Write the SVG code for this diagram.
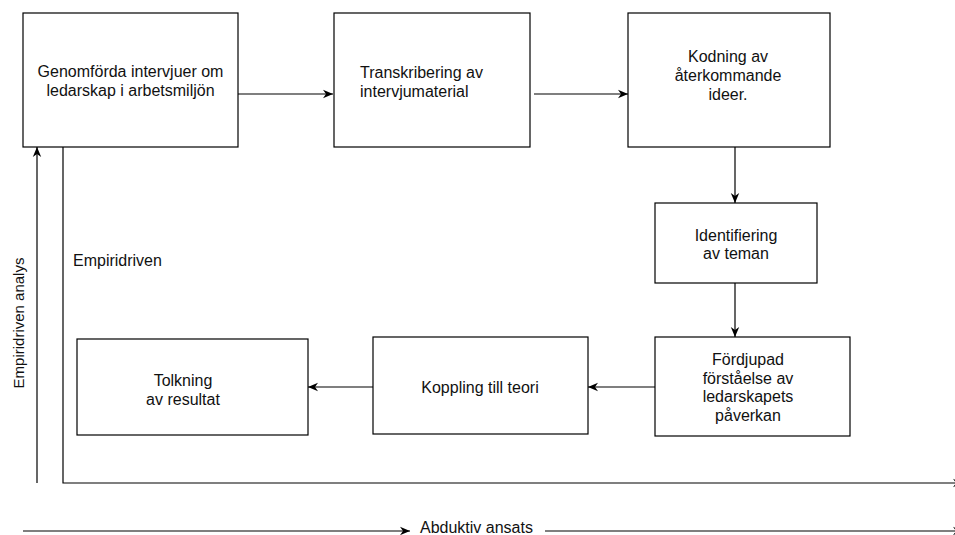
<svg xmlns="http://www.w3.org/2000/svg" width="955" height="535" viewBox="0 0 955 535">
<defs>
<style>
.box{fill:#fff;stroke:#000;stroke-width:1.2}
.t{font-family:"Liberation Sans",Arial,Helvetica,sans-serif;font-size:16px;fill:#111}
.c{text-anchor:middle}
.ln{fill:none;stroke:#000;stroke-width:1.2}
</style>
<marker id="arr" viewBox="0 0 10 10" refX="10" refY="5" markerWidth="10" markerHeight="10" markerUnits="userSpaceOnUse" orient="auto">
<path d="M0,0.8 L10,5 L0,9.2 L3,5 Z" fill="#000"/>
</marker>
</defs>
<rect width="955" height="535" fill="#fff"/>
<g id="connectors">
<line class="ln" x1="238" y1="94" x2="333" y2="94" marker-end="url(#arr)"/>
<line class="ln" x1="534" y1="94" x2="628" y2="94" marker-end="url(#arr)"/>
<line class="ln" x1="735" y1="147" x2="735" y2="203" marker-end="url(#arr)"/>
<line class="ln" x1="735" y1="283" x2="735" y2="337" marker-end="url(#arr)"/>
<line class="ln" x1="655" y1="387" x2="588" y2="387" marker-end="url(#arr)"/>
<line class="ln" x1="373" y1="387" x2="308" y2="387" marker-end="url(#arr)"/>
<line class="ln" x1="37" y1="483" x2="37" y2="147" marker-end="url(#arr)"/>
<polyline class="ln" points="63,147 63,483 963,483" marker-end="url(#arr)"/>
<line class="ln" x1="23" y1="531" x2="410" y2="531" marker-end="url(#arr)"/>
<line class="ln" x1="545" y1="531" x2="963" y2="531" marker-end="url(#arr)"/>
</g>
<g id="n1">
<rect class="box" x="23" y="13" width="215" height="134"/>
<text class="t c" x="130.5" y="77">Genomförda intervjuer om</text>
<text class="t c" x="130.5" y="96">ledarskap i arbetsmiljön</text>
</g>
<g id="n2">
<rect class="box" x="334" y="13" width="196" height="134"/>
<text class="t" x="360" y="77.5">Transkribering av</text>
<text class="t" x="360" y="96.5">intervjumaterial</text>
</g>
<g id="n3">
<rect class="box" x="628" y="13" width="202" height="134"/>
<text class="t c" x="728" y="62">Kodning av</text>
<text class="t c" x="728" y="81">återkommande</text>
<text class="t c" x="728" y="100">ideer.</text>
</g>
<g id="n4">
<rect class="box" x="655" y="203" width="162" height="80"/>
<text class="t c" x="736" y="240.5">Identifiering</text>
<text class="t c" x="736" y="259">av teman</text>
</g>
<g id="n5">
<rect class="box" x="655" y="337" width="195" height="99"/>
<text class="t c" x="748" y="365">Fördjupad</text>
<text class="t c" x="748" y="383.5">förståelse av</text>
<text class="t c" x="748" y="402">ledarskapets</text>
<text class="t c" x="748" y="420.5">påverkan</text>
</g>
<g id="n6">
<rect class="box" x="373" y="337" width="215" height="97"/>
<text class="t c" x="480" y="393">Koppling till teori</text>
</g>
<g id="n7">
<rect class="box" x="77" y="339" width="231" height="96"/>
<text class="t c" x="183" y="386">Tolkning</text>
<text class="t c" x="183" y="404.5">av resultat</text>
</g>
<g id="labels">
<text class="t" x="73" y="266">Empiridriven</text>
<text class="t c" style="font-size:15px" transform="translate(24,323) rotate(-90)">Empiridriven analys</text>
<text class="t" x="420" y="533">Abduktiv ansats</text>
</g>
</svg>
